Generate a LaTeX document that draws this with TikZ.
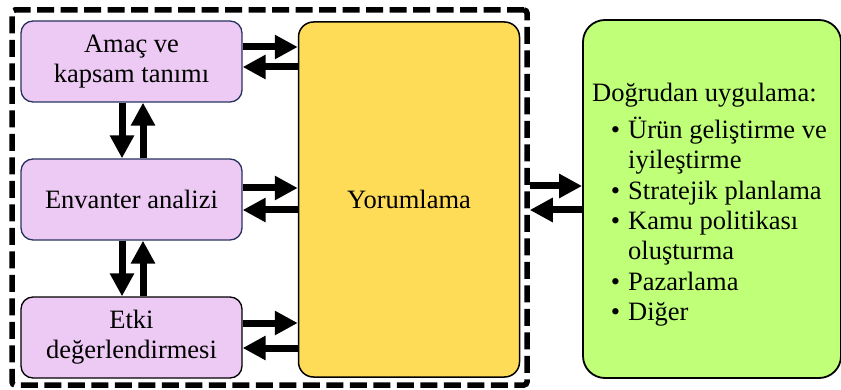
\documentclass[tikz,border=0pt]{standalone}
\usepackage{fontspec}
\setmainfont{Liberation Serif}
\newfontfamily\tnr{Liberation Serif}
\usetikzlibrary{arrows.meta,calc}
\definecolor{lilac}{RGB}{237,202,244}
\definecolor{navy}{RGB}{40,50,95}
\definecolor{sun}{RGB}{255,220,88}
\definecolor{lime}{RGB}{192,255,120}
\newcommand\itm{\makebox[36pt][r]{\textbullet\hspace{8pt}}}
\begin{document}
\begin{tikzpicture}[x=1pt,y=-1pt,
  every node/.style={font=\tnr\fontsize{26.5}{30}\selectfont, inner sep=0pt},
  stage/.style={draw=navy, line width=1.3pt, fill=lilac, rounded corners=12pt,
    minimum width=221pt, minimum height=81pt, align=center},
  fat/.style={line width=7pt, -{Triangle[length=23pt,width=23pt]}},
]
\useasboundingbox (0,0) rectangle (841,390);
\node[draw, line width=5.5pt, dash pattern=on 17pt off 6.5pt, rounded corners=3pt,
  minimum width=515pt, minimum height=375pt] (frame) at (269.5,197.5) {};
\node[stage] (b1) at (131.5,61.5) {Amaç ve\\kapsam tanımı};
\node[stage] (b2) at (131.5,199.5) {Envanter analizi};
\node[stage, draw=black] (b3) at (131.5,337.5) {Etki\\değerlendirmesi};
\node[draw, line width=1.5pt, fill=sun, rounded corners=15pt,
  minimum width=221pt, minimum height=355pt] (yo) at (409,199.5) {Yorumlama};
\node[draw, line width=1.8pt, fill=lime, rounded corners=22pt,
  minimum width=258pt, minimum height=358pt] (gr) at (712,199) {};
\node[anchor=base west, align=left, font=\tnr\fontsize{26.5}{30.4}\selectfont] (gt) at (592,320.7)
 {Doğrudan uygulama:\\[6.2pt]
  \itm Ürün geliştirme ve\\
  \hspace*{36pt}iyileştirme\\
  \itm Stratejik planlama\\
  \itm Kamu politikası\\
  \hspace*{36pt}oluşturma\\
  \itm Pazarlama\\
  \itm Diğer};
% horizontal arrows
\coordinate (r1) at ($(b1.east)+(0,14.5pt)$);
\coordinate (l1) at ($(b1.east)+(0,-5.5pt)$);
\coordinate (r2) at ($(b2.east)+(0,11.5pt)$);
\coordinate (l2) at ($(b2.east)+(0,-10.5pt)$);
\coordinate (r3) at ($(b3.east)+(0,14.5pt)$);
\coordinate (l3) at ($(b3.east)+(0,-10.5pt)$);
\draw[fat] (r1) -- (r1 -| yo.west);
\draw[fat] (l1 -| yo.west) -- (l1);
\draw[fat] (r2) -- (r2 -| yo.west);
\draw[fat] (l2 -| yo.west) -- (l2);
\draw[fat] (r3) -- (r3 -| yo.west);
\draw[fat] (l3 -| yo.west) -- (l3);
% vertical arrows
\coordinate (d1) at ($(b1.south)+(-9.5pt,0)$);
\coordinate (u1) at ($(b1.south)+(11.5pt,0)$);
\coordinate (d2) at ($(b2.south)+(-9.5pt,0)$);
\coordinate (u2) at ($(b2.south)+(11.5pt,0)$);
\draw[fat] (d1) -- (d1 |- b2.north);
\draw[fat] (u1 |- b2.north) -- (u1);
\draw[fat] (d2) -- (d2 |- b3.north);
\draw[fat] (u2 |- b3.north) -- (u2);
% frame <-> green
\coordinate (gr1) at (527,186);
\coordinate (gl1) at (527,210);
\draw[fat] (gr1 -| frame.east) -- (gr1 -| gr.west);
\draw[fat] (gl1 -| gr.west) -- (gl1 -| frame.east);
\end{tikzpicture}
\end{document}
